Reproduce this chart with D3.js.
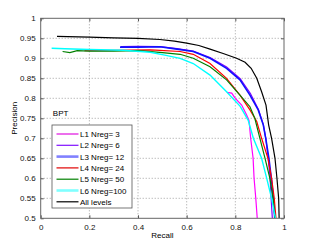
<!DOCTYPE html>
<html>
<head>
<meta charset="utf-8">
<title>precision recall BPT</title>
<style>
  body { margin: 0; background: #fff; }
  text { font-family: "Liberation Sans", Arial, sans-serif; }
</style>
</head>
<body>
<script src="https://cdn.jsdelivr.net/npm/d3@7"></script>
<script>
// data
var xTicks = [0, 0.2, 0.4, 0.6, 0.8, 1];
var yTicks = [0.5, 0.55, 0.6, 0.65, 0.7, 0.75, 0.8, 0.85, 0.9, 0.95, 1];
var seriesNames = ["L1 Nreg= 3", "L2 Nreg= 6", "L3 Nreg= 12", "L4 Nreg= 24", "L5 Nreg= 50", "L6 Nreg=100", "All levels"];

var l1Recall = [0.765, 0.785, 0.80, 0.826, 0.845, 0.856, 0.863, 0.873, 0.877, 0.884, 0.89];
var l1Prec   = [0.815, 0.813, 0.80, 0.783, 0.76, 0.745, 0.70, 0.65, 0.60, 0.55, 0.50];

var l2Recall = [0.33, 0.40, 0.49, 0.56, 0.627, 0.696, 0.764, 0.82, 0.862, 0.895, 0.915, 0.925, 0.935, 0.943, 0.947, 0.952];
var l2Prec   = [0.929, 0.930, 0.929, 0.924, 0.918, 0.902, 0.878, 0.849, 0.812, 0.772, 0.735, 0.70, 0.65, 0.60, 0.55, 0.50];

var l3Recall = [0.326, 0.40, 0.49, 0.56, 0.627, 0.696, 0.764, 0.819, 0.86, 0.894, 0.915, 0.925, 0.938, 0.948, 0.956, 0.962];
var l3Prec   = [0.928, 0.928, 0.929, 0.923, 0.917, 0.90, 0.875, 0.846, 0.808, 0.771, 0.733, 0.70, 0.65, 0.60, 0.55, 0.50];

var l4Recall = [0.18, 0.30, 0.45, 0.49, 0.573, 0.627, 0.696, 0.764, 0.819, 0.86, 0.888, 0.908, 0.934, 0.949, 0.96, 0.967];
var l4Prec   = [0.919, 0.92, 0.921, 0.92, 0.917, 0.91, 0.887, 0.85, 0.808, 0.771, 0.742, 0.70, 0.65, 0.60, 0.55, 0.50];

var l5Recall = [0.09, 0.12, 0.15, 0.2, 0.3, 0.4, 0.49, 0.573, 0.627, 0.696, 0.764, 0.819, 0.86, 0.88, 0.901, 0.922, 0.942, 0.955, 0.963];
var l5Prec   = [0.917, 0.914, 0.919, 0.918, 0.918, 0.919, 0.915, 0.91, 0.90, 0.879, 0.846, 0.808, 0.779, 0.75, 0.70, 0.65, 0.60, 0.55, 0.50];

var l6Recall = [0.045, 0.1, 0.2, 0.34, 0.45, 0.51, 0.573, 0.627, 0.696, 0.764, 0.82, 0.853, 0.874, 0.908, 0.929, 0.949, 0.965];
var l6Prec   = [0.925, 0.924, 0.922, 0.92, 0.915, 0.908, 0.90, 0.887, 0.858, 0.8165, 0.78, 0.745, 0.70, 0.65, 0.60, 0.55, 0.50];

var allRecall = [0.067, 0.2, 0.3, 0.4, 0.49, 0.55, 0.6, 0.65, 0.696, 0.75, 0.805, 0.84, 0.865, 0.888, 0.908, 0.926, 0.937, 0.949, 0.963, 0.971, 0.978, 0.98];
var allPrec   = [0.955, 0.953, 0.951, 0.950, 0.947, 0.943, 0.938, 0.932, 0.923, 0.912, 0.90, 0.89, 0.875, 0.85, 0.8165, 0.783, 0.733, 0.70, 0.65, 0.60, 0.55, 0.50];

var recalls = [l1Recall, l2Recall, l3Recall, l4Recall, l5Recall, l6Recall, allRecall];
var precs = [l1Prec, l2Prec, l3Prec, l4Prec, l5Prec, l6Prec, allPrec];

// styles
var lineColors = ["#ff00ff", "#8000ff", "#1010ff", "#ff0000", "#008000", "#00ffff", "#000000"];
var lineWidths = [1.2, 1.2, 1.6, 1.2, 1.2, 1.4, 1.2];
var legendColors = ["#e010e0", "#8010ff", "#8080ff", "#e00000", "#008000", "#80ffff", "#000000"];
var legendWidths = [1.2, 1.2, 2.6, 1.2, 1.2, 2.6, 1.2];

var margin = {top: 18.3, right: 30, bottom: 27, left: 40.7},
    width = 243.3,
    height = 200;

var svg = d3.select("body").append("svg")
    .attr("width", 314)
    .attr("height", 245)
  .append("g")
    .attr("transform", "translate(" + margin.left + "," + margin.top + ")");

var xScale = d3.scaleLinear().domain([0, 1]).range([0, width]);
var yScale = d3.scaleLinear().domain([0.5, 1]).range([height, 0]);

// grid
svg.append("g").selectAll("line").data(xTicks.slice(1, -1)).enter().append("line")
    .attr("x1", function(d) { return xScale(d); })
    .attr("x2", function(d) { return xScale(d); })
    .attr("y1", 0).attr("y2", height)
    .attr("stroke", "#888").attr("stroke-width", 0.8).attr("stroke-dasharray", "1,2");
svg.append("g").selectAll("line").data(yTicks.slice(1, -1)).enter().append("line")
    .attr("y1", function(d) { return yScale(d); })
    .attr("y2", function(d) { return yScale(d); })
    .attr("x1", 0).attr("x2", width)
    .attr("stroke", "#888").attr("stroke-width", 0.8).attr("stroke-dasharray", "1,2");

// curves
var line = d3.line()
    .x(function(d) { return xScale(d[0]); })
    .y(function(d) { return yScale(d[1]); });

svg.append("clipPath").attr("id", "clip").append("rect")
    .attr("width", width).attr("height", height);

recalls.forEach(function(r, i) {
  var pts = r.map(function(v, j) { return [v, precs[i][j]]; });
  svg.append("path")
    .datum(pts)
    .attr("clip-path", "url(#clip)")
    .attr("fill", "none")
    .attr("stroke", lineColors[i])
    .attr("stroke-width", lineWidths[i])
    .attr("d", line);
});

// axes (matlab style, ticks inward)
var fmt = function(d) { return d3.format("")(+d.toFixed(2)); };
svg.append("g")
    .attr("transform", "translate(0," + height + ")")
    .call(d3.axisBottom(xScale).tickValues(xTicks).tickSize(-3).tickPadding(6).tickFormat(fmt))
    .call(function(g) { g.select(".domain").remove(); });
svg.append("g")
    .call(d3.axisTop(xScale).tickValues(xTicks).tickSize(-3).tickFormat(""))
    .call(function(g) { g.select(".domain").remove(); });
svg.append("g")
    .call(d3.axisLeft(yScale).tickValues(yTicks).tickSize(-3).tickPadding(5).tickFormat(fmt))
    .call(function(g) { g.select(".domain").remove(); });
svg.append("g")
    .attr("transform", "translate(" + width + ",0)")
    .call(d3.axisRight(yScale).tickValues(yTicks).tickSize(-3).tickFormat(""))
    .call(function(g) { g.select(".domain").remove(); });
svg.selectAll(".tick line").attr("stroke", "#555");
svg.selectAll(".tick text").attr("font-size", "8px").attr("fill", "#111")
    .attr("font-family", "Liberation Sans, Arial, sans-serif");

svg.append("rect")
    .attr("width", width).attr("height", height)
    .attr("fill", "none").attr("stroke", "#666").attr("stroke-width", 1);

// labels
svg.append("text")
    .attr("x", width / 2).attr("y", height + 20)
    .attr("text-anchor", "middle").attr("font-size", "8px")
    .text("Recall");
svg.append("text")
    .attr("transform", "rotate(-90)")
    .attr("x", -height / 2).attr("y", -24)
    .attr("text-anchor", "middle").attr("font-size", "8px")
    .text("Precision");
svg.append("text")
    .attr("x", xScale(0.05)).attr("y", yScale(0.755))
    .attr("font-size", "8px")
    .text("BPT");

// legend
var lg = svg.append("g").attr("transform", "translate(" + (52 - margin.left) + "," + (125 - margin.top) + ")");
lg.append("rect")
    .attr("width", 80).attr("height", 83)
    .attr("fill", "#fff").attr("stroke", "#555").attr("stroke-width", 0.8);
seriesNames.forEach(function(name, i) {
  var yy = 9 + i * 11.3;
  lg.append("line")
    .attr("x1", 4.5).attr("x2", 26.5).attr("y1", yy).attr("y2", yy)
    .attr("stroke", legendColors[i]).attr("stroke-width", legendWidths[i]);
  lg.append("text")
    .attr("x", 28).attr("y", yy + 3)
    .attr("font-size", "8px")
    .text(name);
});
</script>
</body>
</html>
